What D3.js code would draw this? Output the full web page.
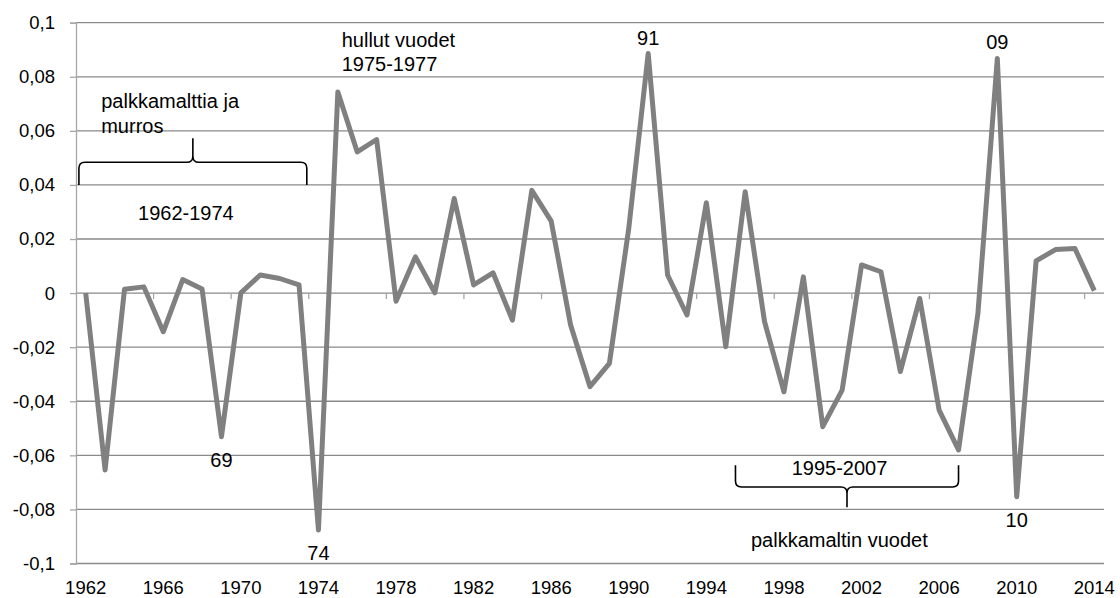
<!DOCTYPE html>
<html>
<head>
<meta charset="utf-8">
<script src="https://cdn.jsdelivr.net/npm/d3@7"></script>
<style>
  body { margin: 0; background: #fff; }
  text { font-family: "Liberation Sans", Arial, sans-serif; fill: #000; }
</style>
</head>
<body>
<div id="chart"></div>
<script>
// years on the category axis
var years = d3.range(1962, 2015);
// values
var values = [
  0.000, -0.0654, 0.0014, 0.0023, -0.0143, 0.0050, 0.0015, -0.0531, 0.0001, 0.0067,
  0.0054, 0.0030, -0.0876, 0.0744, 0.0522, 0.0568, -0.0030, 0.0134, 0.0001, 0.0350,
  0.0030, 0.0075, -0.0100, 0.0380, 0.0266, -0.0118, -0.0346, -0.0260, 0.0240, 0.0886,
  0.0067, -0.0081, 0.0334, -0.0198, 0.0375, -0.0106, -0.0365, 0.0060, -0.0494, -0.0359,
  0.0104, 0.0079, -0.0290, -0.0020, -0.0433, -0.0580, -0.0075, 0.0868, -0.0753, 0.0119,
  0.0161, 0.0165, 0.0009
];
var yTicks = [-0.1, -0.08, -0.06, -0.04, -0.02, 0, 0.02, 0.04, 0.06, 0.08, 0.1];
var xLabels = d3.range(1962, 2015, 4);
// year labels put at the extreme points
var pointLabels = [
  {year: 1969, text: "69", side: "below"},
  {year: 1974, text: "74", side: "below"},
  {year: 1991, text: "91", side: "above"},
  {year: 2009, text: "09", side: "above"},
  {year: 2010, text: "10", side: "below"}
];

var width = 1120, height = 598;
var plotLeft = 76, plotRight = 1104, plotTop = 22.7, plotBottom = 563.5;

var svg = d3.select("#chart").append("svg")
  .attr("width", width)
  .attr("height", height);

var x = d3.scaleLinear().domain([1961.5, 2014.5]).range([plotLeft, plotRight]);
var y = d3.scaleLinear().domain([-0.1, 0.1]).range([plotBottom, plotTop]);

var fmt = function(v) { return String(+v.toFixed(2)).replace(".", ","); };

// gridlines
svg.append("g")
  .selectAll("line")
  .data(yTicks)
  .enter().append("line")
  .attr("x1", plotLeft).attr("x2", plotRight)
  .attr("y1", function(d) { return y(d); })
  .attr("y2", function(d) { return y(d); })
  .style("stroke", "#8a8a8a")
  .style("stroke-width", 1.3);

// value axis
var yAxis = svg.append("g")
  .attr("transform", "translate(" + plotLeft + ",0)")
  .call(d3.axisLeft(y).tickValues(yTicks).tickSize(6).tickPadding(15).tickFormat(fmt));
yAxis.select(".domain").style("stroke", "#a6a6a6").style("stroke-width", 1.3);
yAxis.selectAll(".tick line").style("stroke", "#a6a6a6").style("stroke-width", 1.3);
yAxis.selectAll("text")
  .style("font-family", "Liberation Sans, Arial, sans-serif")
  .style("font-size", "18.5px")
  .attr("fill", "#000");

// category ticks on the zero line
var boundaries = d3.range(1965.5, 2014, 4);
svg.append("g")
  .selectAll("line")
  .data(boundaries)
  .enter().append("line")
  .attr("x1", function(d) { return x(d); })
  .attr("x2", function(d) { return x(d); })
  .attr("y1", y(0)).attr("y2", y(0) + 6)
  .style("stroke", "#a6a6a6")
  .style("stroke-width", 1.3);

// year labels under the plot
svg.append("g")
  .selectAll("text")
  .data(xLabels)
  .enter().append("text")
  .attr("x", function(d) { return x(d); })
  .attr("y", 594)
  .attr("text-anchor", "middle")
  .style("font-size", "18.5px")
  .text(function(d) { return d; });

// the series
var line = d3.line()
  .x(function(d, i) { return x(years[i]); })
  .y(function(d) { return y(d); });

svg.append("path")
  .datum(values)
  .attr("d", line)
  .style("fill", "none")
  .style("stroke", "#808080")
  .style("stroke-width", 5)
  .style("stroke-linejoin", "round");

// point labels
svg.append("g")
  .selectAll("text")
  .data(pointLabels)
  .enter().append("text")
  .attr("x", function(d) { return x(d.year); })
  .attr("y", function(d) {
    var v = values[years.indexOf(d.year)];
    return d.side == "above" ? y(v) - 9 : y(v) + 30;
  })
  .attr("text-anchor", "middle")
  .style("font-size", "20px")
  .text(function(d) { return d.text; });

// curly brackets
function brace(x0, x1, yBase, yBar, yTip, r) {
  var xm = (x0 + x1) / 2;
  var dir = yBar < yBase ? -1 : 1;
  return "M" + x0 + "," + yBase +
    "L" + x0 + "," + (yBar - dir * r) +
    "Q" + x0 + "," + yBar + " " + (x0 + r) + "," + yBar +
    "L" + (xm - r) + "," + yBar +
    "Q" + xm + "," + yBar + " " + xm + "," + (yBar + dir * r) +
    "L" + xm + "," + yTip +
    "M" + xm + "," + (yBar + dir * r) +
    "Q" + xm + "," + yBar + " " + (xm + r) + "," + yBar +
    "L" + (x1 - r) + "," + yBar +
    "Q" + x1 + "," + yBar + " " + x1 + "," + (yBar - dir * r) +
    "L" + x1 + "," + yBase;
}

svg.append("path")
  .attr("d", brace(x(1961.65), x(1973.4), y(0.04), y(0.0484), y(0.0573), 6))
  .style("fill", "none").style("stroke", "#000").style("stroke-width", 1.6);

svg.append("path")
  .attr("d", brace(x(1995.5), x(2007.0), y(-0.0637), y(-0.0717), y(-0.0792), 6))
  .style("fill", "none").style("stroke", "#000").style("stroke-width", 1.6);

// annotation texts
function note(xv, yv, lines) {
  var t = svg.append("text")
    .attr("x", x(xv))
    .attr("y", y(yv))
    .style("font-size", "20px");
  lines.forEach(function(s, i) {
    t.append("tspan").attr("x", x(xv)).attr("dy", i == 0 ? 0 : 24.5).text(s);
  });
}

note(1962.8, 0.0683, ["palkkamalttia ja", "murros"]);
note(1964.7, 0.0270, ["1962-1974"]);
note(1975.2, 0.0911, ["hullut vuodet", "1975-1977"]);
note(1998.4, -0.0673, ["1995-2007"]);
note(1996.3, -0.0938, ["palkkamaltin vuodet"]);
</script>
</body>
</html>
